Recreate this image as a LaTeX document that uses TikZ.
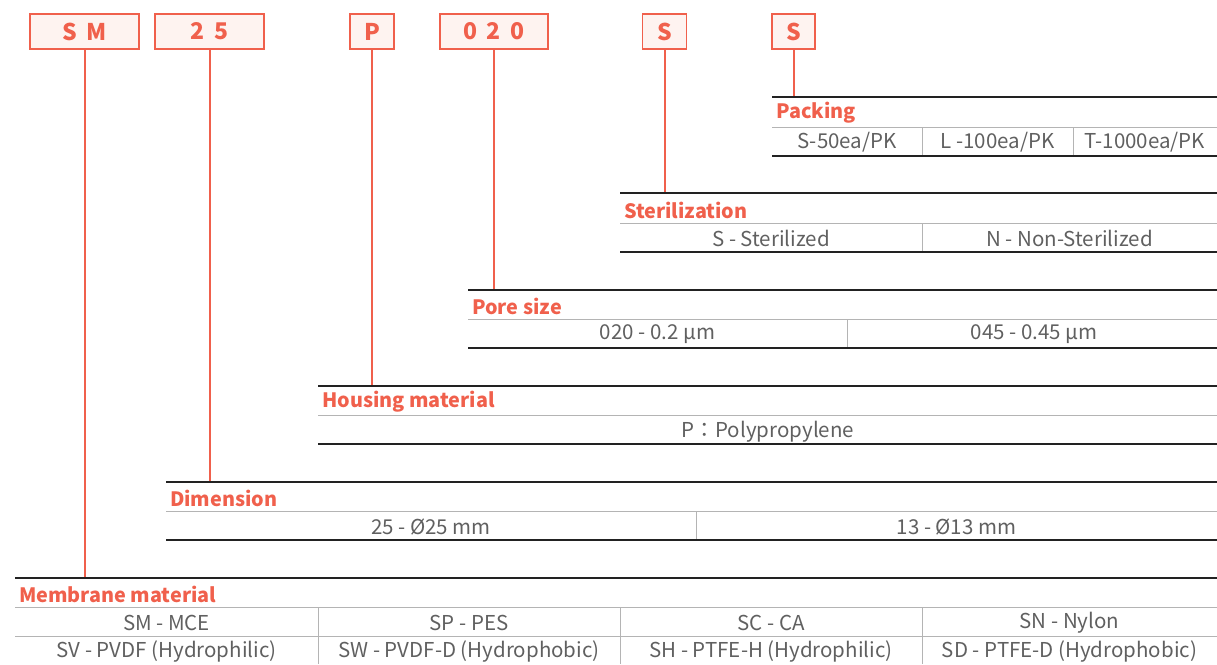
\documentclass[tikz,border=0pt]{standalone}
\usepackage{fontspec}
\setmainfont{Noto Sans CJK KR}
\definecolor{red1}{HTML}{F0604C}
\definecolor{pink1}{HTML}{FEF3F0}
\definecolor{txt}{HTML}{606060}
\definecolor{dark}{HTML}{222222}
\definecolor{thin}{HTML}{B4B4B4}
\tikzset{
  codebox/.style={draw=red1,line width=1.6pt,fill=pink1,text=red1,font=\fontsize{23}{23}\selectfont\bfseries,inner sep=0pt,minimum height=35pt},
  conn/.style={draw=red1,line width=2pt},
  thickline/.style={draw=dark,line width=2.4pt},
  thinline/.style={draw=thin,line width=1pt},
  lbl/.style={anchor=west,text=red1,font=\fontsize{19.8}{20}\selectfont\bfseries,inner sep=0pt},
  cell/.style={text=txt,font=\fontsize{20.5}{21}\selectfont,inner sep=0pt}
}
\begin{document}
\begin{tikzpicture}[x=1pt,y=-1pt]
\useasboundingbox (0,0) rectangle (1217,664);
% code boxes
\node[codebox,minimum width=109pt] (bSM) at (84.5,31.5) {S\hspace{0.4em}M};
\node[codebox,minimum width=109pt] (b25) at (209.5,31.5) {2\hspace{0.4em}5};
\node[codebox,minimum width=44pt] (bP) at (372,31.5) {P};
\node[codebox,minimum width=108pt] (b020) at (494,31.5) {0\hspace{0.4em}2\hspace{0.4em}0};
\node[codebox,minimum width=44pt] (bS1) at (664.5,31.5) {S};
\node[codebox,minimum width=43pt] (bS2) at (793.5,31.5) {S};
% connector ends
\coordinate (cPack) at (793.5,97);
\coordinate (cSter) at (664.5,193);
\coordinate (cPore) at (494,290);
\coordinate (cHous) at (372,386);
\coordinate (cDim) at (209.5,482);
\coordinate (cMem) at (84.5,578);
\draw[conn] (bS2.south) -- (cPack);
\draw[conn] (bS1.south) -- (cSter);
\draw[conn] (b020.south) -- (cPore);
\draw[conn] (bP.south) -- (cHous);
\draw[conn] (b25.south) -- (cDim);
\draw[conn] (bSM.south) -- (cMem);
% Packing
\draw[thinline] (772,127) -- (1217,127);
\draw[thinline] (922,127) -- (922,156) (1073,127) -- (1073,156);
\draw[thickline] (772,97) -- (1217,97);
\draw[thickline] (772,156) -- (1217,156);
\node[lbl] (lPack) at (776,113) {Packing};
\node[cell] (p1) at (847,142.5) {S-50ea/PK};
\node[cell] (p2) at (997.5,142.5) {L -100ea/PK};
\node[cell] (p3) at (1145,142.5) {T-1000ea/PK};
% Sterilization
\draw[thinline] (620,223) -- (1217,223);
\draw[thinline] (922,223) -- (922,252);
\draw[thickline] (620,193) -- (1217,193);
\draw[thickline] (620,252) -- (1217,252);
\node[lbl] (lSter) at (624,210) {Sterilization};
\node[cell] (s1) at (771,238.5) {S - Sterilized};
\node[cell] (s2) at (1069.5,238.5) {N - Non-Sterilized};
% Pore size
\draw[thinline] (468,319) -- (1217,319);
\draw[thinline] (847,319) -- (847,348);
\draw[thickline] (468,290) -- (1217,290);
\draw[thickline] (468,348) -- (1217,348);
\node[lbl] (lPore) at (472,306) {Pore size};
\node[cell] (o1) at (657.5,334.5) {020 - 0.2 µm};
\node[cell] (o2) at (1034,334.5) {045 - 0.45 µm};
% Housing material
\draw[thinline] (318,415) -- (1217,415);
\draw[thickline] (318,386) -- (1217,386);
\draw[thickline] (318,444) -- (1217,444);
\node[lbl] (lHous) at (322,402) {Housing material};
\node[cell] (h1) at (768,432) {P：Polypropylene};
% Dimension
\draw[thinline] (166,511) -- (1217,511);
\draw[thinline] (696,511) -- (696,540);
\draw[thickline] (166,482) -- (1217,482);
\draw[thickline] (166,540) -- (1217,540);
\node[lbl] (lDim) at (170,498) {Dimension};
\node[cell] (d1) at (431,527) {25 - Ø25 mm};
\node[cell] (d2) at (956.5,527) {13 - Ø13 mm};
% Membrane material
\draw[thinline] (15,607) -- (1217,607);
\draw[thinline] (15,636) -- (1217,636);
\draw[thinline] (318,607) -- (318,664) (620,607) -- (620,664) (922,607) -- (922,664);
\draw[thickline] (15,578) -- (1217,578);
\node[lbl] (lMem) at (19,594) {Membrane material};
\node[cell] (m1) at (166.5,623) {SM - MCE};
\node[cell] (m2) at (469,623) {SP - PES};
\node[cell] (m3) at (771,623) {SC - CA};
\node[cell] (m4) at (1069.5,623) {SN - Nylon};
\node[cell] (m5) at (166.5,652) {SV - PVDF (Hydrophilic)};
\node[cell] (m6) at (469,652) {SW - PVDF-D (Hydrophobic)};
\node[cell] (m7) at (771,652) {SH - PTFE-H (Hydrophilic)};
\node[cell] (m8) at (1069.5,652) {SD - PTFE-D (Hydrophobic)};
\end{tikzpicture}
\end{document}
